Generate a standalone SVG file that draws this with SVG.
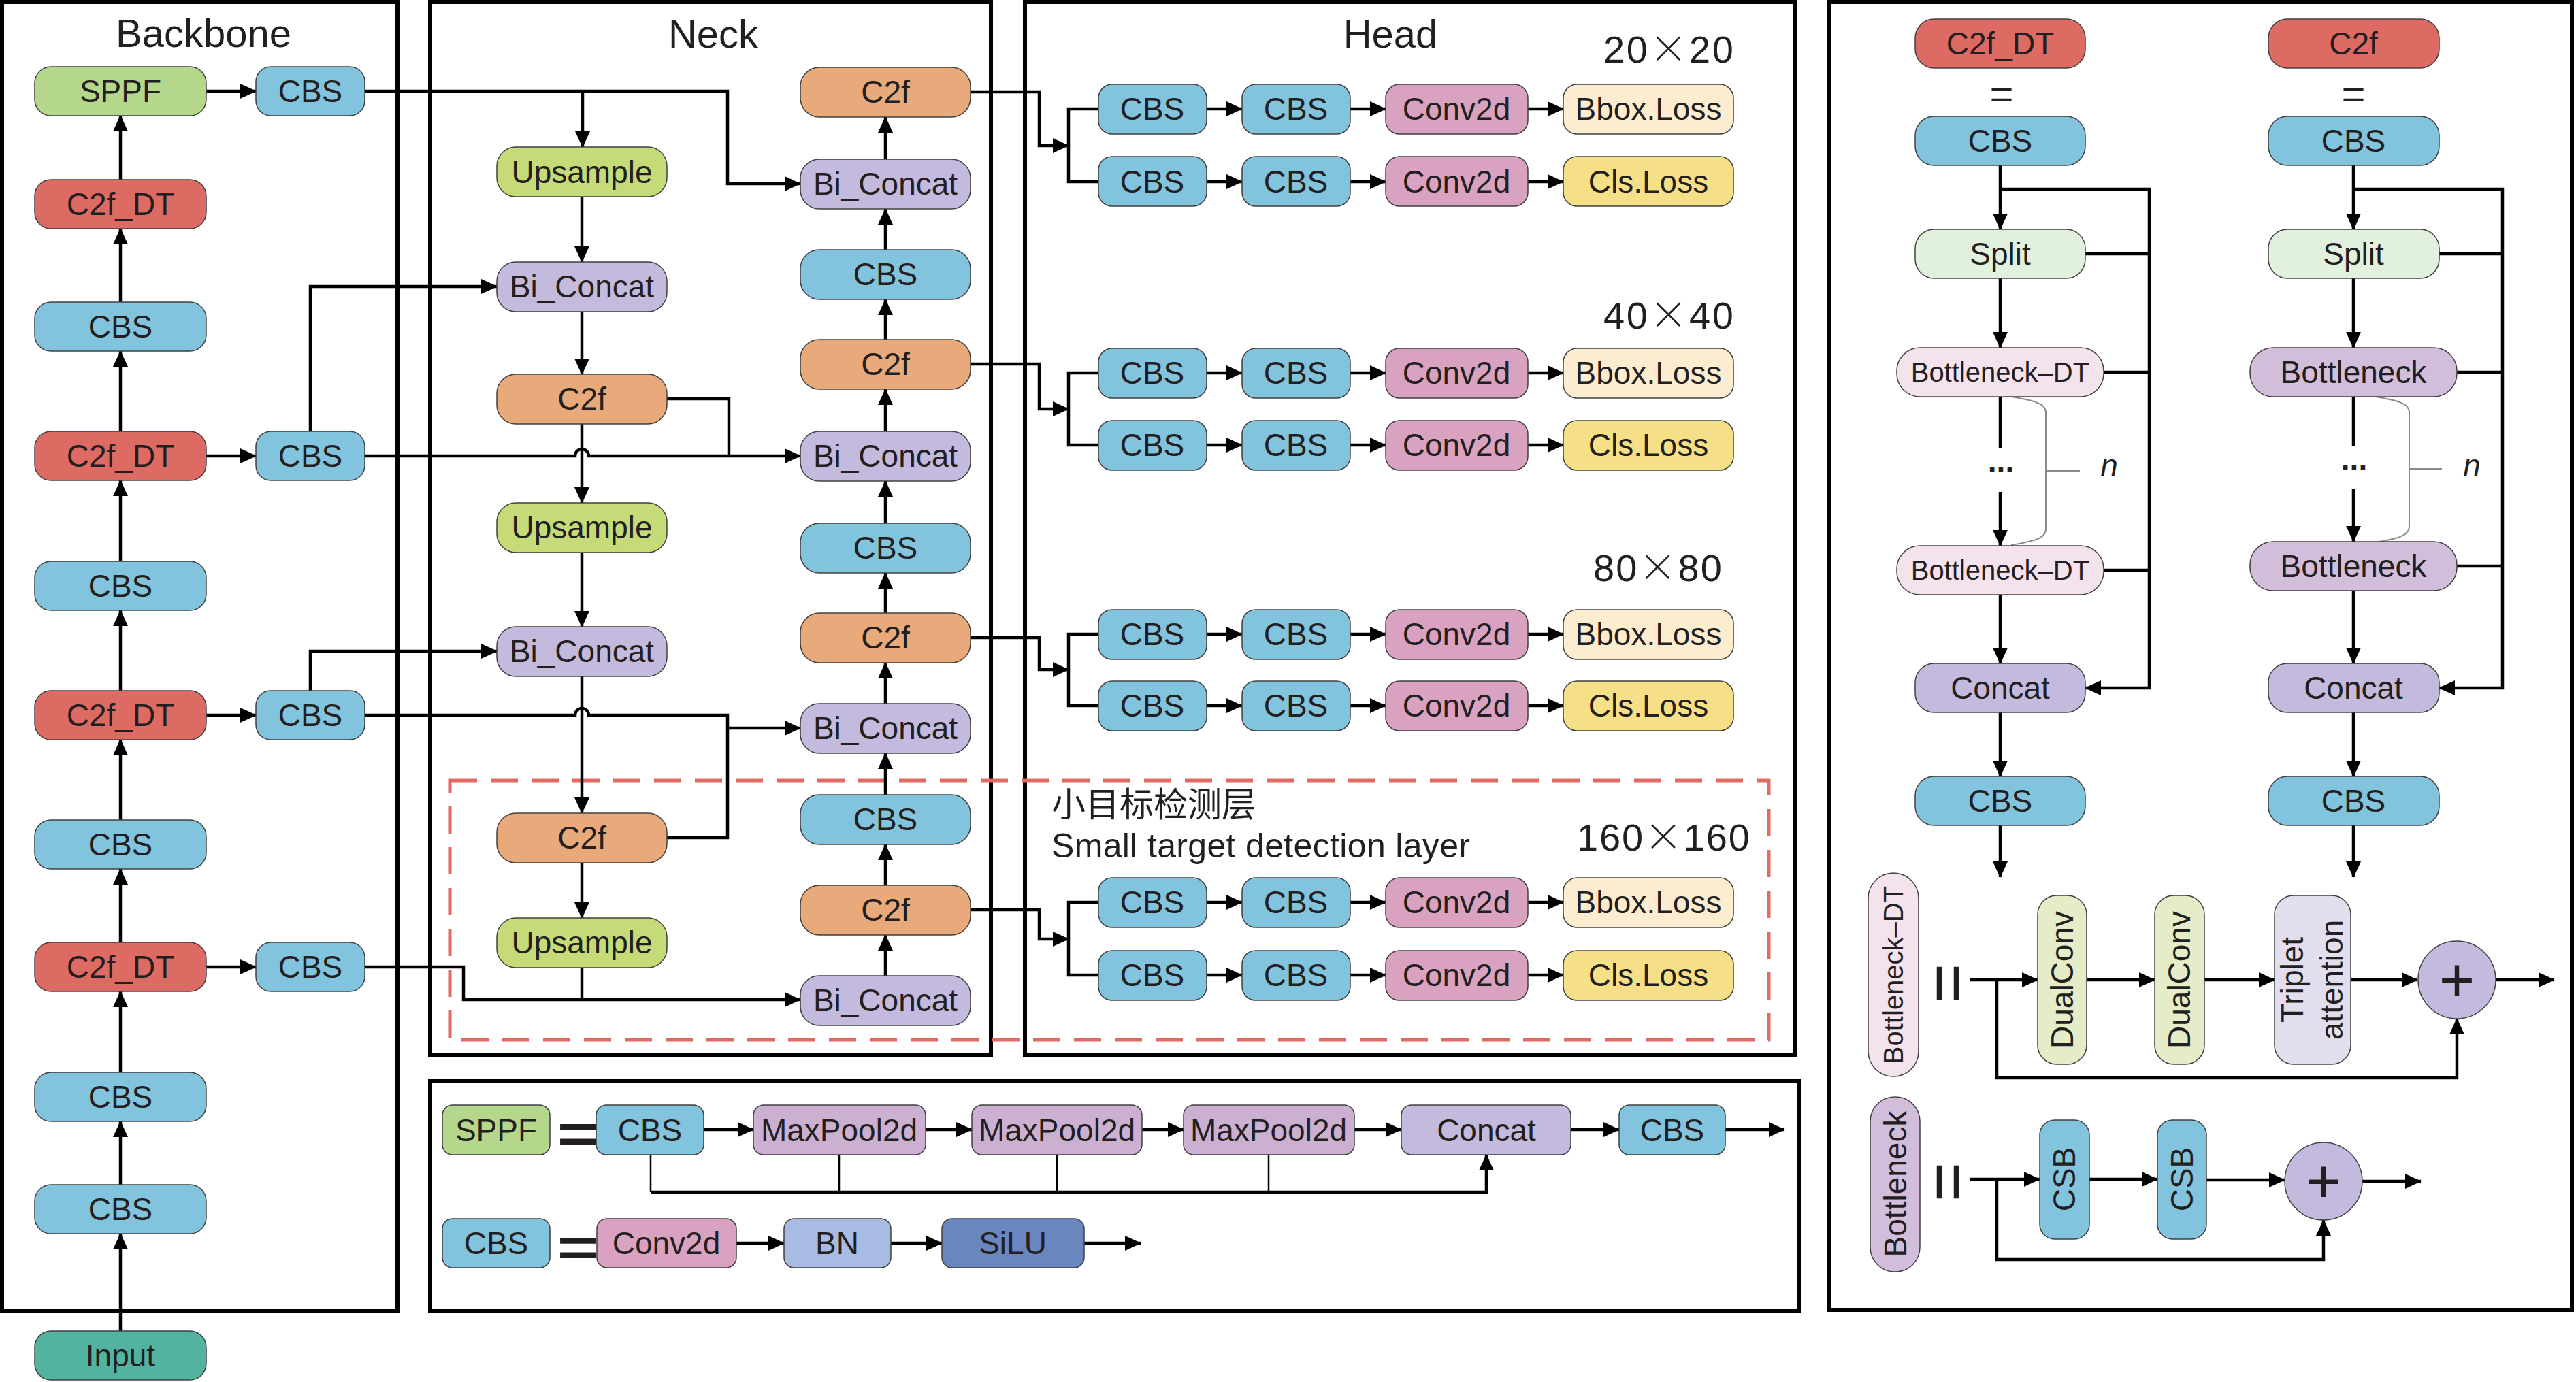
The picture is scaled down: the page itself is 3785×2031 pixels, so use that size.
<svg xmlns="http://www.w3.org/2000/svg" width="3785" height="2031" viewBox="0 0 3785 2031">
<defs>
<marker id="ah" markerUnits="userSpaceOnUse" markerWidth="24" markerHeight="22" viewBox="0 0 24 22" refX="23" refY="11" orient="auto"><path d="M0,0 L24,11 L0,22 z" fill="#000"/></marker>
<style>
.n{stroke:#404040;stroke-width:1.5}
.t{font-family:"Liberation Sans",Arial,sans-serif;font-size:46px;fill:#231f20;text-anchor:middle}
.dim{font-size:56px;text-anchor:start}
.x{font-family:"Noto Sans CJK SC","Noto Sans CJK JP",sans-serif;font-weight:300}
.c{fill:none;stroke:#000;stroke-width:4.5}
.thin{stroke-width:2.5}
.a{marker-end:url(#ah)}
.panel{fill:none;stroke:#000;stroke-width:6}
.cbs{fill:#82C3DE}.dt{fill:#DE6A64}.sppf{fill:#B5D78C}.inp{fill:#52B4A0}.up{fill:#C4DB78}.bic{fill:#C4BADE}.c2f{fill:#E8AA7A}.conv{fill:#D8A2C0}.bbox{fill:#FCECD0}.cls{fill:#F5DF87}.mp{fill:#CCB0D2}.bn{fill:#A8BBE2}.silu{fill:#6A86BE}.split{fill:#E2F0DE}.bdt{fill:#F4E2EC}.bneck{fill:#D2BEDA}.dual{fill:#E4ECC8}.tri{fill:#E2DEEE}
.brace{fill:none;stroke:#8a8a8a;stroke-width:2}
</style>
</defs>
<rect x="0" y="0" width="3785" height="2031" fill="#fff"/>

<g id="panels">
<rect class="panel" x="3" y="3" width="581" height="1923"/>
<rect class="panel" x="632" y="3" width="824" height="1547"/>
<rect class="panel" x="1506" y="3" width="1132" height="1547"/>
<rect class="panel" x="2687" y="3" width="1092" height="1922"/>
<rect class="panel" x="632" y="1589" width="2011" height="337"/>
<rect x="661" y="1147" width="1938" height="381" fill="none" stroke="#E06B63" stroke-width="5" stroke-dasharray="40 20"/>
<text class="t" x="299" y="69" style="font-size:58px">Backbone</text>
<text class="t" x="1048" y="70" style="font-size:58px">Neck</text>
<text class="t" x="2043" y="70" style="font-size:58px">Head</text>
<text class="t dim" x="2356" y="92" textLength="191">20<tspan class="x">×</tspan>20</text>
<text class="t dim" x="2356" y="483" textLength="191">40<tspan class="x">×</tspan>40</text>
<text class="t dim" x="2341" y="854" textLength="189">80<tspan class="x">×</tspan>80</text>
<text class="t dim" x="2317" y="1250" textLength="254">160<tspan class="x">×</tspan>160</text>
<text x="1545" y="1200" font-family="'Noto Sans CJK SC','Noto Sans CJK JP',sans-serif" font-size="50" fill="#231f20">小目标检测层</text>
<text class="t" x="1545" y="1260" style="font-size:50px;text-anchor:start" textLength="615">Small target detection layer</text>
</g>

<g id="connectors">
<path class="c a" d="M177,1956 V1813"/>
<path class="c a" d="M177,1741 V1648"/>
<path class="c a" d="M177,1576 V1457"/>
<path class="c a" d="M177,1385 V1277"/>
<path class="c a" d="M177,1205 V1087"/>
<path class="c a" d="M177,1015 V897"/>
<path class="c a" d="M177,825 V706"/>
<path class="c a" d="M177,634 V516"/>
<path class="c a" d="M177,444 V336"/>
<path class="c a" d="M177,264 V170"/>
<path class="c a" d="M303,134 H376"/>
<path class="c a" d="M303,670 H376"/>
<path class="c a" d="M303,1051 H376"/>
<path class="c a" d="M303,1421 H376"/>
<path class="c a" d="M536,134 H1069 V270 H1176"/>
<path class="c a" d="M856,134 V216"/>
<path class="c a" d="M855,289 V385"/>
<path class="c a" d="M456,634 V421 H730"/>
<path class="c a" d="M855,458 V550"/>
<path class="c" d="M980,586 H1071 V670"/>
<path class="c a" d="M536,670 H845 A10,10 0 0 1 865,670 H1176"/>
<path class="c a" d="M855,623 V739"/>
<path class="c a" d="M855,812 V921"/>
<path class="c a" d="M456,1015 V957 H730"/>
<path class="c" d="M536,1051 H845 A10,10 0 0 1 865,1051 H1069 V1231 H980"/>
<path class="c a" d="M1069,1070 H1176"/>
<path class="c a" d="M855,994 V1195"/>
<path class="c a" d="M855,1268 V1349"/>
<path class="c a" d="M536,1421 H681 V1469 H1176"/>
<path class="c" d="M855,1422 V1469"/>
<path class="c a" d="M1301,1434 V1374"/>
<path class="c a" d="M1301,1301 V1241"/>
<path class="c a" d="M1301,1168 V1107"/>
<path class="c a" d="M1301,1034 V974"/>
<path class="c a" d="M1301,901 V842"/>
<path class="c a" d="M1301,769 V707"/>
<path class="c a" d="M1301,634 V572"/>
<path class="c a" d="M1301,499 V440"/>
<path class="c a" d="M1301,367 V307"/>
<path class="c a" d="M1301,234 V172"/>
<path class="c a" d="M1426,135 H1527 V214 H1570"/>
<path class="c a" d="M1426,535 H1527 V601 H1570"/>
<path class="c a" d="M1426,937 H1527 V984 H1570"/>
<path class="c a" d="M1426,1337 H1527 V1380 H1570"/>
<path class="c" d="M1614,160 H1570 V267 H1614"/>
<path class="c" d="M1614,548 H1570 V654 H1614"/>
<path class="c" d="M1614,932 H1570 V1037 H1614"/>
<path class="c" d="M1614,1326 H1570 V1433 H1614"/>
<path class="c a" d="M1773,160 H1825"/><path class="c a" d="M1984,160 H2036"/><path class="c a" d="M2245,160 H2297"/>
<path class="c a" d="M1773,267 H1825"/><path class="c a" d="M1984,267 H2036"/><path class="c a" d="M2245,267 H2297"/>
<path class="c a" d="M1773,548 H1825"/><path class="c a" d="M1984,548 H2036"/><path class="c a" d="M2245,548 H2297"/>
<path class="c a" d="M1773,654 H1825"/><path class="c a" d="M1984,654 H2036"/><path class="c a" d="M2245,654 H2297"/>
<path class="c a" d="M1773,932 H1825"/><path class="c a" d="M1984,932 H2036"/><path class="c a" d="M2245,932 H2297"/>
<path class="c a" d="M1773,1037 H1825"/><path class="c a" d="M1984,1037 H2036"/><path class="c a" d="M2245,1037 H2297"/>
<path class="c a" d="M1773,1326 H1825"/><path class="c a" d="M1984,1326 H2036"/><path class="c a" d="M2245,1326 H2297"/>
<path class="c a" d="M1773,1433 H1825"/><path class="c a" d="M1984,1433 H2036"/><path class="c a" d="M2245,1433 H2297"/>
<path class="c a" d="M1034,1660 H1107"/>
<path class="c a" d="M1360,1660 H1428"/>
<path class="c a" d="M1678,1660 H1739"/>
<path class="c a" d="M1990,1660 H2059"/>
<path class="c a" d="M2308,1660 H2379"/>
<path class="c a" d="M2535,1660 H2622"/>
<path class="c thin" d="M956,1697 V1752 M1233,1697 V1752 M1553,1697 V1752 M1864,1697 V1752"/>
<path class="c a" d="M956,1752 H2184 V1697"/>
<path class="c a" d="M1082,1827 H1152"/>
<path class="c a" d="M1309,1827 H1384"/>
<path class="c a" d="M1593,1827 H1676"/>
<path class="c a" d="M2939,243 V337"/>
<path class="c a" d="M2939,278 H3158 V1011 H3064"/>
<path class="c" d="M3064,373 H3158 M3091,547 H3158 M3091,838 H3158"/>
<path class="c a" d="M2939,409 V511"/>
<path class="c" d="M2939,583 V659"/>
<path class="c a" d="M2939,723 V802"/>
<path class="c a" d="M2939,874 V975"/>
<path class="c a" d="M2939,1047 V1141"/>
<path class="c a" d="M2939,1213 V1289"/>
<path class="c a" d="M3458,243 V337"/>
<path class="c a" d="M3458,278 H3677 V1011 H3584"/>
<path class="c" d="M3584,373 H3677 M3610,547 H3677 M3610,832 H3677"/>
<path class="c a" d="M3458,409 V511"/>
<path class="c" d="M3458,583 V655"/>
<path class="c a" d="M3458,719 V796"/>
<path class="c a" d="M3458,868 V975"/>
<path class="c a" d="M3458,1047 V1141"/>
<path class="c a" d="M3458,1213 V1289"/>
<path class="brace" d="M2955,583 C2985,588 3006,592 3006,606 V778 C3006,792 2985,796 2955,801 M3006,692 H3056"/>
<path class="brace" d="M3490,583 C3520,588 3540,592 3540,606 V774 C3540,788 3520,792 3490,797 M3540,689 H3588"/>
<path class="c a" d="M2895,1440 H2994"/>
<path class="c a" d="M3066,1440 H3166"/>
<path class="c a" d="M3239,1440 H3342"/>
<path class="c a" d="M3454,1440 H3552"/>
<path class="c a" d="M3667,1440 H3753"/>
<path class="c a" d="M2934,1440 V1584 H3610 V1497"/>
<path class="c a" d="M2895,1733 H2997"/>
<path class="c a" d="M3070,1733 H3170"/>
<path class="c a" d="M3242,1734 H3357"/>
<path class="c a" d="M3471,1736 H3557"/>
<path class="c a" d="M2934,1733 V1851 H3414 V1793"/>
</g>

<g id="bb_sppf"><rect class="n sppf" x="51" y="98" width="252" height="72" rx="24"/><text class="t" x="177" y="150">SPPF</text></g>
<g id="bb_c2fdt1"><rect class="n dt" x="51" y="264" width="252" height="72" rx="24"/><text class="t" x="177" y="316">C2f_DT</text></g>
<g id="bb_cbs1"><rect class="n cbs" x="51" y="444" width="252" height="72" rx="24"/><text class="t" x="177" y="496">CBS</text></g>
<g id="bb_c2fdt2"><rect class="n dt" x="51" y="634" width="252" height="72" rx="24"/><text class="t" x="177" y="686">C2f_DT</text></g>
<g id="bb_cbs2"><rect class="n cbs" x="51" y="825" width="252" height="72" rx="24"/><text class="t" x="177" y="877">CBS</text></g>
<g id="bb_c2fdt3"><rect class="n dt" x="51" y="1015" width="252" height="72" rx="24"/><text class="t" x="177" y="1067">C2f_DT</text></g>
<g id="bb_cbs3"><rect class="n cbs" x="51" y="1205" width="252" height="72" rx="24"/><text class="t" x="177" y="1257">CBS</text></g>
<g id="bb_c2fdt4"><rect class="n dt" x="51" y="1385" width="252" height="72" rx="24"/><text class="t" x="177" y="1437">C2f_DT</text></g>
<g id="bb_cbs4"><rect class="n cbs" x="51" y="1576" width="252" height="72" rx="24"/><text class="t" x="177" y="1628">CBS</text></g>
<g id="bb_cbs5"><rect class="n cbs" x="51" y="1741" width="252" height="72" rx="24"/><text class="t" x="177" y="1793">CBS</text></g>
<g id="bb_input"><rect class="n inp" x="51" y="1956" width="252" height="72" rx="24"/><text class="t" x="177" y="2008">Input</text></g>
<g id="bb_side1"><rect class="n cbs" x="376" y="98" width="160" height="72" rx="22"/><text class="t" x="456" y="150">CBS</text></g>
<g id="bb_side2"><rect class="n cbs" x="376" y="634" width="160" height="72" rx="22"/><text class="t" x="456" y="686">CBS</text></g>
<g id="bb_side3"><rect class="n cbs" x="376" y="1015" width="160" height="72" rx="22"/><text class="t" x="456" y="1067">CBS</text></g>
<g id="bb_side4"><rect class="n cbs" x="376" y="1385" width="160" height="72" rx="22"/><text class="t" x="456" y="1437">CBS</text></g>

<g id="nk_up1"><rect class="n up" x="730" y="216" width="250" height="73" rx="28"/><text class="t" x="855" y="269">Upsample</text></g>
<g id="nk_bic1"><rect class="n bic" x="730" y="385" width="250" height="73" rx="28"/><text class="t" x="855" y="437">Bi_Concat</text></g>
<g id="nk_c2f1"><rect class="n c2f" x="730" y="550" width="250" height="73" rx="28"/><text class="t" x="855" y="602">C2f</text></g>
<g id="nk_up2"><rect class="n up" x="730" y="739" width="250" height="73" rx="28"/><text class="t" x="855" y="791">Upsample</text></g>
<g id="nk_bic2"><rect class="n bic" x="730" y="921" width="250" height="73" rx="28"/><text class="t" x="855" y="973">Bi_Concat</text></g>
<g id="nk_c2f2"><rect class="n c2f" x="730" y="1195" width="250" height="73" rx="28"/><text class="t" x="855" y="1247">C2f</text></g>
<g id="nk_up3"><rect class="n up" x="730" y="1349" width="250" height="73" rx="28"/><text class="t" x="855" y="1401">Upsample</text></g>
<g id="nk_r_c2f1"><rect class="n c2f" x="1176" y="99" width="250" height="73" rx="28"/><text class="t" x="1301" y="151">C2f</text></g>
<g id="nk_r_bic1"><rect class="n bic" x="1176" y="234" width="250" height="73" rx="28"/><text class="t" x="1301" y="286">Bi_Concat</text></g>
<g id="nk_r_cbs1"><rect class="n cbs" x="1176" y="367" width="250" height="73" rx="28"/><text class="t" x="1301" y="419">CBS</text></g>
<g id="nk_r_c2f2"><rect class="n c2f" x="1176" y="499" width="250" height="73" rx="28"/><text class="t" x="1301" y="551">C2f</text></g>
<g id="nk_r_bic2"><rect class="n bic" x="1176" y="634" width="250" height="73" rx="28"/><text class="t" x="1301" y="686">Bi_Concat</text></g>
<g id="nk_r_cbs2"><rect class="n cbs" x="1176" y="769" width="250" height="73" rx="28"/><text class="t" x="1301" y="821">CBS</text></g>
<g id="nk_r_c2f3"><rect class="n c2f" x="1176" y="901" width="250" height="73" rx="28"/><text class="t" x="1301" y="953">C2f</text></g>
<g id="nk_r_bic3"><rect class="n bic" x="1176" y="1034" width="250" height="73" rx="28"/><text class="t" x="1301" y="1086">Bi_Concat</text></g>
<g id="nk_r_cbs3"><rect class="n cbs" x="1176" y="1168" width="250" height="73" rx="28"/><text class="t" x="1301" y="1220">CBS</text></g>
<g id="nk_r_c2f4"><rect class="n c2f" x="1176" y="1301" width="250" height="73" rx="28"/><text class="t" x="1301" y="1353">C2f</text></g>
<g id="nk_r_bic4"><rect class="n bic" x="1176" y="1434" width="250" height="73" rx="28"/><text class="t" x="1301" y="1486">Bi_Concat</text></g>

<g id="hd_20_r1">
<rect class="n cbs" x="1614" y="124" width="159" height="73" rx="20"/><text class="t" x="1693" y="176">CBS</text>
<rect class="n cbs" x="1825" y="124" width="159" height="73" rx="20"/><text class="t" x="1904" y="176">CBS</text>
<rect class="n conv" x="2036" y="124" width="209" height="73" rx="20"/><text class="t" x="2140" y="176">Conv2d</text>
<rect class="n bbox" x="2297" y="124" width="250" height="73" rx="20"/><text class="t" x="2422" y="176">Bbox.Loss</text>
</g>
<g id="hd_20_r2">
<rect class="n cbs" x="1614" y="230" width="159" height="73" rx="20"/><text class="t" x="1693" y="283">CBS</text>
<rect class="n cbs" x="1825" y="230" width="159" height="73" rx="20"/><text class="t" x="1904" y="283">CBS</text>
<rect class="n conv" x="2036" y="230" width="209" height="73" rx="20"/><text class="t" x="2140" y="283">Conv2d</text>
<rect class="n cls" x="2297" y="230" width="250" height="73" rx="20"/><text class="t" x="2422" y="283">Cls.Loss</text>
</g>
<g id="hd_40_r1">
<rect class="n cbs" x="1614" y="512" width="159" height="73" rx="20"/><text class="t" x="1693" y="564">CBS</text>
<rect class="n cbs" x="1825" y="512" width="159" height="73" rx="20"/><text class="t" x="1904" y="564">CBS</text>
<rect class="n conv" x="2036" y="512" width="209" height="73" rx="20"/><text class="t" x="2140" y="564">Conv2d</text>
<rect class="n bbox" x="2297" y="512" width="250" height="73" rx="20"/><text class="t" x="2422" y="564">Bbox.Loss</text>
</g>
<g id="hd_40_r2">
<rect class="n cbs" x="1614" y="618" width="159" height="73" rx="20"/><text class="t" x="1693" y="670">CBS</text>
<rect class="n cbs" x="1825" y="618" width="159" height="73" rx="20"/><text class="t" x="1904" y="670">CBS</text>
<rect class="n conv" x="2036" y="618" width="209" height="73" rx="20"/><text class="t" x="2140" y="670">Conv2d</text>
<rect class="n cls" x="2297" y="618" width="250" height="73" rx="20"/><text class="t" x="2422" y="670">Cls.Loss</text>
</g>
<g id="hd_80_r1">
<rect class="n cbs" x="1614" y="896" width="159" height="73" rx="20"/><text class="t" x="1693" y="948">CBS</text>
<rect class="n cbs" x="1825" y="896" width="159" height="73" rx="20"/><text class="t" x="1904" y="948">CBS</text>
<rect class="n conv" x="2036" y="896" width="209" height="73" rx="20"/><text class="t" x="2140" y="948">Conv2d</text>
<rect class="n bbox" x="2297" y="896" width="250" height="73" rx="20"/><text class="t" x="2422" y="948">Bbox.Loss</text>
</g>
<g id="hd_80_r2">
<rect class="n cbs" x="1614" y="1001" width="159" height="73" rx="20"/><text class="t" x="1693" y="1053">CBS</text>
<rect class="n cbs" x="1825" y="1001" width="159" height="73" rx="20"/><text class="t" x="1904" y="1053">CBS</text>
<rect class="n conv" x="2036" y="1001" width="209" height="73" rx="20"/><text class="t" x="2140" y="1053">Conv2d</text>
<rect class="n cls" x="2297" y="1001" width="250" height="73" rx="20"/><text class="t" x="2422" y="1053">Cls.Loss</text>
</g>
<g id="hd_160_r1">
<rect class="n cbs" x="1614" y="1290" width="159" height="73" rx="20"/><text class="t" x="1693" y="1342">CBS</text>
<rect class="n cbs" x="1825" y="1290" width="159" height="73" rx="20"/><text class="t" x="1904" y="1342">CBS</text>
<rect class="n conv" x="2036" y="1290" width="209" height="73" rx="20"/><text class="t" x="2140" y="1342">Conv2d</text>
<rect class="n bbox" x="2297" y="1290" width="250" height="73" rx="20"/><text class="t" x="2422" y="1342">Bbox.Loss</text>
</g>
<g id="hd_160_r2">
<rect class="n cbs" x="1614" y="1397" width="159" height="73" rx="20"/><text class="t" x="1693" y="1449">CBS</text>
<rect class="n cbs" x="1825" y="1397" width="159" height="73" rx="20"/><text class="t" x="1904" y="1449">CBS</text>
<rect class="n conv" x="2036" y="1397" width="209" height="73" rx="20"/><text class="t" x="2140" y="1449">Conv2d</text>
<rect class="n cls" x="2297" y="1397" width="250" height="73" rx="20"/><text class="t" x="2422" y="1449">Cls.Loss</text>
</g>

<g id="sppf_def">
<rect class="n sppf" x="650" y="1624" width="158" height="73" rx="15"/><text class="t" x="729" y="1677">SPPF</text>
<text class="t" style="font-size:80px;font-weight:bold" transform="translate(849,1693) scale(1.3,1)">=</text>
<rect class="n cbs" x="876" y="1624" width="158" height="73" rx="15"/><text class="t" x="955" y="1677">CBS</text>
<rect class="n mp" x="1107" y="1624" width="253" height="73" rx="15"/><text class="t" x="1233" y="1677">MaxPool2d</text>
<rect class="n mp" x="1428" y="1624" width="250" height="73" rx="15"/><text class="t" x="1553" y="1677">MaxPool2d</text>
<rect class="n mp" x="1739" y="1624" width="251" height="73" rx="15"/><text class="t" x="1864" y="1677">MaxPool2d</text>
<rect class="n bic" x="2059" y="1624" width="249" height="73" rx="15"/><text class="t" x="2184" y="1677">Concat</text>
<rect class="n cbs" x="2379" y="1624" width="156" height="73" rx="15"/><text class="t" x="2457" y="1677">CBS</text>
</g>
<g id="cbs_def">
<rect class="n cbs" x="650" y="1791" width="158" height="72" rx="15"/><text class="t" x="729" y="1843">CBS</text>
<text class="t" style="font-size:80px;font-weight:bold" transform="translate(849,1860) scale(1.3,1)">=</text>
<rect class="n conv" x="877" y="1791" width="205" height="72" rx="15"/><text class="t" x="979" y="1843">Conv2d</text>
<rect class="n bn" x="1152" y="1791" width="157" height="72" rx="15"/><text class="t" x="1230" y="1843">BN</text>
<rect class="n silu" x="1384" y="1791" width="209" height="72" rx="15"/><text class="t" x="1488" y="1843">SiLU</text>
</g>

<g id="c2fdt_def">
<rect class="n dt" x="2814" y="28" width="250" height="72" rx="28"/><text class="t" x="2939" y="80">C2f_DT</text>
<text class="t" x="2941" y="159" style="font-size:60px">=</text>
<rect class="n cbs" x="2814" y="171" width="250" height="72" rx="28"/><text class="t" x="2939" y="223">CBS</text>
<rect class="n split" x="2814" y="337" width="250" height="72" rx="28"/><text class="t" x="2939" y="389">Split</text>
<rect class="n bdt" x="2787" y="511" width="304" height="72" rx="34"/><text class="t" x="2939" y="561" style="font-size:40px">Bottleneck–DT</text>
<text class="t" x="2940" y="694" style="font-weight:bold">...</text>
<text class="t" x="3099" y="700" style="font-style:italic">n</text>
<rect class="n bdt" x="2787" y="802" width="304" height="72" rx="34"/><text class="t" x="2939" y="852" style="font-size:40px">Bottleneck–DT</text>
<rect class="n bic" x="2814" y="975" width="250" height="72" rx="28"/><text class="t" x="2939" y="1027">Concat</text>
<rect class="n cbs" x="2814" y="1141" width="250" height="72" rx="28"/><text class="t" x="2939" y="1193">CBS</text>
</g>
<g id="c2f_def">
<rect class="n dt" x="3333" y="28" width="251" height="72" rx="28"/><text class="t" x="3458" y="80">C2f</text>
<text class="t" x="3458" y="159" style="font-size:60px">=</text>
<rect class="n cbs" x="3333" y="171" width="251" height="72" rx="28"/><text class="t" x="3458" y="223">CBS</text>
<rect class="n split" x="3333" y="337" width="251" height="72" rx="28"/><text class="t" x="3458" y="389">Split</text>
<rect class="n bneck" x="3306" y="511" width="304" height="72" rx="34"/><text class="t" x="3458" y="563">Bottleneck</text>
<text class="t" x="3459" y="690" style="font-weight:bold">...</text>
<text class="t" x="3632" y="700" style="font-style:italic">n</text>
<rect class="n bneck" x="3306" y="796" width="304" height="72" rx="34"/><text class="t" x="3458" y="848">Bottleneck</text>
<rect class="n bic" x="3333" y="975" width="251" height="72" rx="28"/><text class="t" x="3458" y="1027">Concat</text>
<rect class="n cbs" x="3333" y="1141" width="251" height="72" rx="28"/><text class="t" x="3458" y="1193">CBS</text>
</g>
<g id="bneckdt_def">
<rect class="n bdt" x="2745" y="1283" width="74" height="299" rx="37"/>
<text class="t" style="font-size:40px" transform="translate(2782,1433) rotate(-90)" y="14">Bottleneck–DT</text>
<text class="t" style="font-size:100px" transform="translate(2860,1445) rotate(-90)" y="35">=</text>
<rect class="n dual" x="2994" y="1316" width="72" height="248" rx="28"/>
<text class="t" transform="translate(3030,1440) rotate(-90)" y="16">DualConv</text>
<rect class="n dual" x="3166" y="1316" width="73" height="248" rx="28"/>
<text class="t" transform="translate(3202,1440) rotate(-90)" y="16">DualConv</text>
<rect class="n tri" x="3342" y="1316" width="112" height="248" rx="28"/>
<text class="t" transform="translate(3398,1440) rotate(-90)"><tspan x="0" y="-14">Triplet</tspan><tspan x="0" y="44">attention</tspan></text>
<ellipse class="n bic" cx="3610" cy="1440" rx="57" ry="57"/>
<text class="t" x="3610" y="1471" style="font-size:90px">+</text>
</g>
<g id="bneck_def">
<rect class="n bneck" x="2748" y="1612" width="73" height="257" rx="36"/>
<text class="t" transform="translate(2785,1740) rotate(-90)" y="16">Bottleneck</text>
<text class="t" style="font-size:100px" transform="translate(2860,1737) rotate(-90)" y="35">=</text>
<rect class="n cbs" x="2997" y="1646" width="73" height="175" rx="22"/>
<text class="t" transform="translate(3033,1733) rotate(-90)" y="16">CSB</text>
<rect class="n cbs" x="3170" y="1646" width="72" height="175" rx="22"/>
<text class="t" transform="translate(3206,1733) rotate(-90)" y="16">CSB</text>
<ellipse class="n bic" cx="3414" cy="1736" rx="57" ry="57"/>
<text class="t" x="3414" y="1767" style="font-size:90px">+</text>
</g>
</svg>
